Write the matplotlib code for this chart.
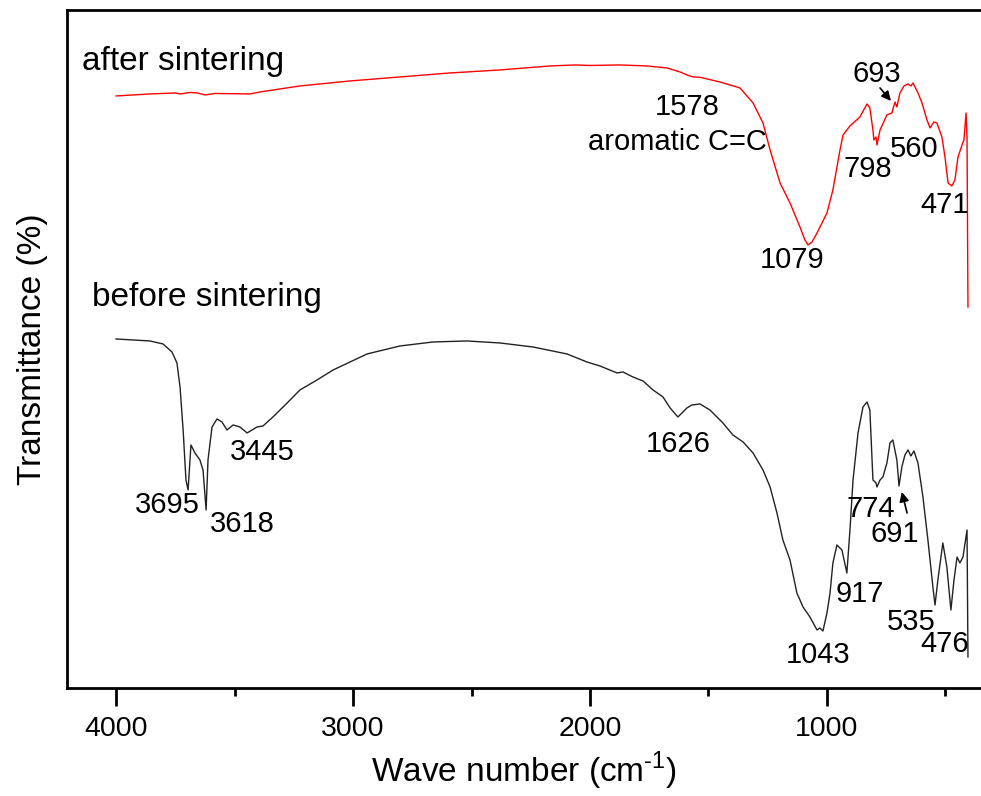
import matplotlib
matplotlib.use("Agg")
import matplotlib.pyplot as plt

plt.rcParams['font.family'] = ['Liberation Sans', 'DejaVu Sans']
plt.rcParams['mathtext.fontset'] = 'custom'
plt.rcParams['mathtext.rm'] = 'Liberation Sans'

# FTIR spectra, wavenumber (cm-1) vs transmittance (arbitrary, offset traces)
wn_after = [4000, 3857, 3751, 3730, 3688, 3658, 3624, 3582, 3435, 3392, 3224, 3013,
            2802, 2591, 2380, 2169, 2063, 2000, 1873, 1760, 1675, 1620, 1591, 1565,
            1536, 1452, 1367, 1312, 1270, 1240, 1198, 1156, 1114, 1093, 1080, 1063,
            1042, 1000, 975, 945, 932, 903, 861, 831, 819, 806, 802, 793, 789, 776,
            747, 726, 713, 705, 692, 675, 658, 646, 637, 616, 599, 578, 565, 549,
            536, 515, 502, 489, 473, 460, 447, 430, 422, 413, 409, 405]
t_after = [592, 594, 595, 594, 595.5, 595, 593, 594.5, 594, 596, 602, 607,
           611, 615, 618, 622, 623, 622.5, 623, 622, 620, 616, 613, 611,
           610.7, 606, 600, 585, 565, 538, 505, 485, 461, 448, 443, 446,
           455, 475, 498, 538, 553, 562, 571, 584, 580, 558, 548, 551, 543, 558,
           573, 575, 586, 581, 595, 602, 604, 602, 605, 595, 585, 568, 560, 566,
           565, 551, 531, 505, 502, 508, 531, 543, 548, 575, 551, 381]

wn_before = [4000, 3857, 3802, 3764, 3743, 3730, 3717, 3705, 3696, 3684, 3667, 3646,
             3633, 3620, 3612, 3595, 3574, 3553, 3532, 3506, 3477, 3447, 3405, 3380,
             3338, 3278, 3224, 3152, 3084, 2941, 2802, 2662, 2519, 2380, 2241, 2097,
             2013, 1958, 1886, 1861, 1819, 1776, 1734, 1692, 1662, 1629, 1591, 1570,
             1536, 1494, 1439, 1397, 1354, 1312, 1270, 1240, 1211, 1186, 1156, 1127,
             1101, 1072, 1042, 1030, 1017, 1000, 987, 975, 958, 937, 916, 903, 890,
             869, 848, 831, 819, 806, 793, 789, 776, 764, 747, 734, 722, 705, 696,
             684, 671, 658, 646, 633, 616, 595, 574, 553, 544, 532, 511, 494, 477,
             464, 451, 439, 426, 409, 405]
t_before = [349, 347, 344, 336, 325, 301, 258, 208, 198, 243, 235, 228,
            218, 178, 228, 261, 269, 266, 258, 263, 261, 255, 261, 262,
            271, 285, 298, 308, 318, 334, 342, 346, 347, 345, 341, 334,
            326, 322, 315, 316, 311, 307, 298, 291, 280, 271, 280, 283,
            284, 278, 265, 253, 246, 235, 218, 201, 175, 148, 128, 95,
            81, 71, 58, 60, 57, 75, 95, 125, 143, 138, 115, 158, 208,
            255, 281, 286, 278, 208, 205, 201, 208, 211, 225, 245, 248, 228, 202,
            221, 233, 238, 232, 237, 225, 191, 148, 101, 83, 108, 145, 121, 78,
            108, 131, 125, 131, 158, 31]

# peak labels: text, wavenumber, transmittance (baseline)
peaks_after = [("1578", 1591, 573), ("aromatic C=C", 1633, 538), ("1079", 1148, 420),
               ("798", 827, 511), ("560", 633, 531), ("693", 789, 606), ("471", 502, 475)]
peaks_before = [("3695", 3785, 175), ("3618", 3468, 156), ("3445", 3384, 228),
                ("1626", 1629, 236), ("774", 814, 171), ("691", 713, 146),
                ("917", 861, 86), ("535", 646, 58), ("476", 502, 36), ("1043", 1038, 25)]

fig = plt.figure(figsize=(9.81, 7.96), dpi=100)
ax = fig.add_axes([0.0683, 0.1357, 0.9317, 0.8518])

ax.plot(wn_after, t_after, color='#ff0000', lw=1.0)
ax.plot(wn_before, t_before, color='#222222', lw=1.0)

ax.set_xlim(4207, 350)
ax.set_ylim(0, 678)

for txt, x, y in peaks_after + peaks_before:
    ax.text(x, y, txt, fontsize=21, ha='center', va='baseline')

ax.text(4143, 618, "after sintering", fontsize=24, ha='left', va='baseline')
ax.text(4101, 382, "before sintering", fontsize=24, ha='left', va='baseline')

# small arrows marking the 693 and 691 shoulders
arrow = dict(arrowstyle='-|>', color='black', lw=1.2, mutation_scale=14, shrinkA=0, shrinkB=0)
ax.annotate("", xy=(730, 587), xytext=(776, 600), arrowprops=arrow)
ax.annotate("", xy=(684, 196), xytext=(662, 175), arrowprops=arrow)

ax.set_xticks([4000, 3000, 2000, 1000])
ax.set_xticks([3500, 2500, 1500, 500], minor=True)
ax.set_yticks([])
ax.tick_params(axis='x', which='major', direction='out', length=13, width=2,
               labelsize=20.5, pad=7)
ax.tick_params(axis='x', which='minor', direction='out', length=6, width=2)

for s in ['left', 'bottom', 'top']:
    ax.spines[s].set_linewidth(2)
ax.spines['right'].set_visible(False)

ax.set_xlabel(r"Wave number (cm$^{\text{-1}}$)", fontsize=24, labelpad=6)
ax.set_ylabel("Transmittance (%)", fontsize=24, labelpad=14)

fig.savefig("out.png", dpi=100)
